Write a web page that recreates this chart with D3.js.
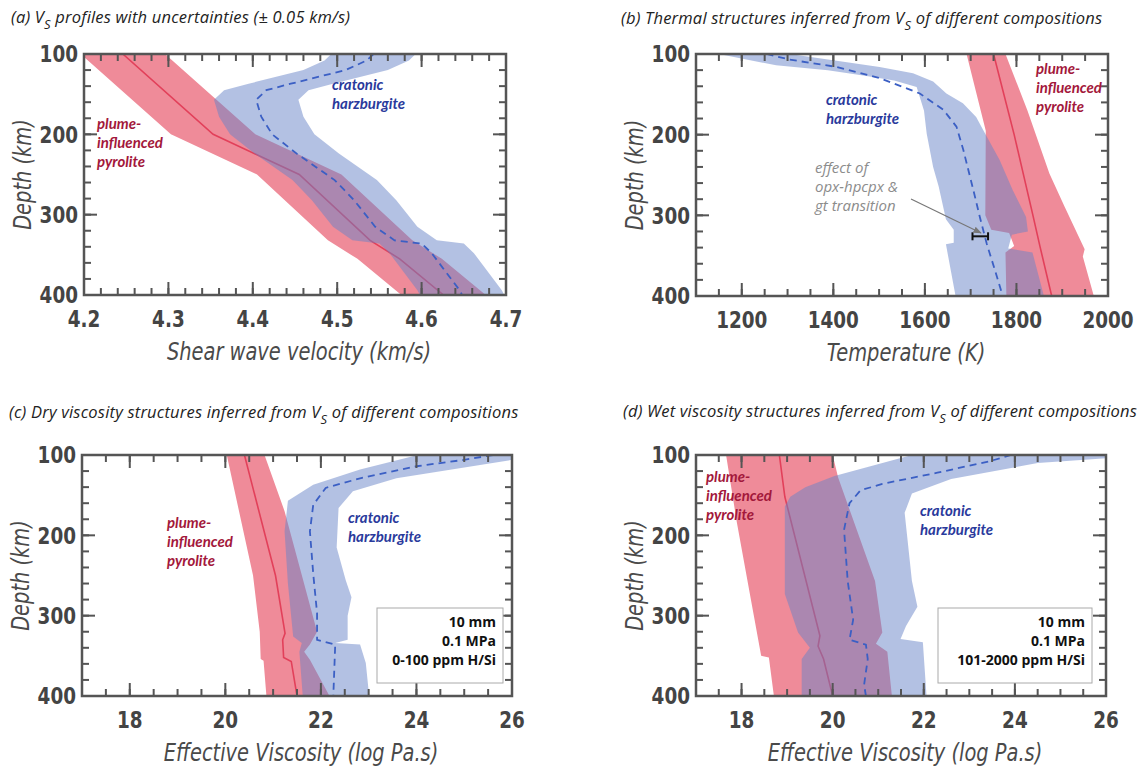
<!DOCTYPE html>
<html><head><meta charset="utf-8">
<script src="https://cdn.jsdelivr.net/npm/d3@7"></script>
<style>
body{margin:0;background:#fff;}
svg{display:block;}
.tick-label{font-family:"DejaVu Sans",sans-serif;font-weight:bold;font-size:23px;fill:#444;}
.axis-title{font-family:"DejaVu Sans",sans-serif;font-style:italic;font-size:24px;fill:#4a4a4a;}
.panel-title{font-family:"Open Sans","Lato",sans-serif;font-style:italic;font-size:16.5px;letter-spacing:0.2px;fill:#222;}
.lab{font-family:"Lato","Open Sans",sans-serif;font-style:italic;font-weight:bold;font-size:15px;}
.box-text{font-family:"Open Sans","Lato",sans-serif;font-weight:bold;font-size:14px;fill:#111;}
.note{font-family:"Open Sans","Lato",sans-serif;font-style:italic;font-size:15px;fill:#8c8c8c;}
</style></head>
<body><svg id="chart" width="1147" height="769"></svg>
<script>
// ---------------- DATA ----------------
const depthTicks = [100, 200, 300, 400];
const vsTicks = [4.2, 4.3, 4.4, 4.5, 4.6, 4.7];
const tempTicks = [1200, 1400, 1600, 1800, 2000];
const viscTicks = [18, 20, 22, 24, 26];

// (a) Vs profiles
const aPyrDepth = [100, 200, 250, 332, 355, 400];
const aPyrVs    = [4.246, 4.353, 4.455, 4.539, 4.574, 4.626];
const aPyrVsLo  = [4.196, 4.303, 4.405, 4.489, 4.524, 4.576];
const aPyrVsHi  = [4.296, 4.403, 4.505, 4.589, 4.624, 4.676];
const aHzDepth = [100, 108, 120, 137, 145, 157, 178, 200, 224, 257, 282, 315, 332, 336, 348, 394, 400];
const aHzVs    = [4.543, 4.535, 4.510, 4.445, 4.416, 4.404, 4.410, 4.423, 4.452, 4.497, 4.520, 4.545, 4.568, 4.600, 4.612, 4.645, 4.648];
const aHzVsLo  = [4.493, 4.485, 4.460, 4.395, 4.366, 4.354, 4.360, 4.373, 4.402, 4.447, 4.470, 4.495, 4.518, 4.550, 4.562, 4.595, 4.598];
const aHzVsHi  = [4.593, 4.585, 4.560, 4.495, 4.466, 4.454, 4.460, 4.473, 4.502, 4.547, 4.570, 4.595, 4.618, 4.650, 4.662, 4.695, 4.698];

// (b) temperature
const bPyrDepth = [100, 200, 300, 340, 400];
const bPyrT     = [1750, 1795, 1836, 1852, 1877];
const bPyrLoDepth = [100, 195, 300, 318, 322, 338, 346, 400];
const bPyrLoT     = [1691, 1733, 1732, 1745, 1784, 1795, 1776, 1778];
const bPyrHiDepth = [100, 170, 248, 289, 342, 351, 400];
const bPyrHiT     = [1776, 1824, 1872, 1905, 1949, 1945, 1969];
const bHzDepth = [100, 107, 116, 130, 149, 169, 190, 219, 269, 302, 335, 368, 400];
const bHzT     = [1254, 1305, 1407, 1502, 1589, 1640, 1669, 1684, 1706, 1720, 1735, 1753, 1770];
const bHzLoDepth = [100, 114, 120, 127, 133, 141, 170, 199, 240, 264, 305, 318, 334, 336, 400];
const bHzLoT     = [1150, 1275, 1388, 1469, 1533, 1582, 1598, 1604, 1618, 1630, 1646, 1663, 1663, 1646, 1667];
const bHzHiDepth = [100, 107, 116, 124, 134, 149, 161, 178, 194, 231, 269, 302, 320, 324, 341, 346, 400];
const bHzHiT     = [1305, 1392, 1501, 1574, 1618, 1647, 1683, 1712, 1727, 1763, 1792, 1821, 1825, 1790, 1782, 1835, 1860];
const gtEffectDepth = 326;
const gtEffectT = [1704, 1738];

// (c) dry viscosity
const cPyrDepth = [100, 250, 322, 330, 352, 357, 400];
const cPyrEta   = [20.40, 21.05, 21.25, 21.20, 21.22, 21.38, 21.50];
const cPyrLoDepth = [100, 250, 320, 354, 356, 400];
const cPyrLoEta   = [20.03, 20.58, 20.72, 20.74, 20.80, 20.86];
const cPyrHiDepth = [100, 170, 320, 336, 345, 355, 400];
const cPyrHiEta   = [20.82, 21.24, 21.92, 21.77, 21.65, 21.77, 22.18];
const cHzDepth = [100, 106, 114, 129, 141, 162, 195, 248, 297, 330, 336, 400];
const cHzEta   = [25.60, 25.00, 24.00, 22.82, 22.10, 21.84, 21.77, 21.84, 21.92, 21.92, 22.30, 22.26];
const cHzLoDepth = [100, 118, 137, 157, 195, 260, 326, 334, 345, 400];
const cHzLoEta   = [24.03, 22.82, 21.84, 21.31, 21.24, 21.31, 21.42, 21.60, 21.55, 21.62];
const cHzHiDepth = [100, 106, 129, 145, 166, 215, 256, 277, 300, 330, 334, 336, 359, 400];
const cHzHiEta   = [26.00, 26.00, 23.58, 22.67, 22.37, 22.33, 22.52, 22.64, 22.56, 22.56, 22.30, 22.82, 22.94, 23.01];

// (d) wet viscosity
const dPyrDepth = [100, 152, 325, 338, 354, 400];
const dPyrEta   = [18.83, 18.95, 19.72, 19.68, 19.80, 20.00];
const dPyrLoDepth = [100, 185, 300, 350, 352, 400];
const dPyrLoEta   = [17.66, 17.90, 18.27, 18.43, 18.60, 18.71];
const dPyrHiDepth = [100, 128, 257, 321, 335, 345, 400];
const dPyrHiEta   = [20.00, 20.12, 20.93, 21.09, 20.95, 21.20, 21.30];
const dHzDepth = [100, 108, 122, 136, 144, 160, 193, 257, 305, 330, 336, 354, 386, 400];
const dHzEta   = [23.92, 23.43, 22.30, 21.09, 20.61, 20.37, 20.25, 20.33, 20.45, 20.37, 20.73, 20.77, 20.69, 20.73];
const dHzLoDepth = [100, 126, 140, 152, 164, 273, 321, 340, 354, 400];
const dHzLoEta   = [21.74, 20.04, 19.40, 19.07, 18.95, 18.95, 19.24, 19.50, 19.32, 19.32];
const dHzHiDepth = [100, 104, 110, 130, 148, 172, 257, 289, 313, 329, 333, 400];
const dHzHiEta   = [26.00, 26.00, 24.50, 22.60, 21.74, 21.58, 21.74, 21.86, 21.61, 21.49, 21.98, 22.06];

const boxC = ["10 mm", "0.1 MPa", "0-100 ppm H/Si"];
const boxD = ["10 mm", "0.1 MPa", "101-2000 ppm H/Si"];

// ---------------- DRAWING ----------------
const svg = d3.select("#chart");
const RED_FILL = "#ef8b99", RED_LINE = "#e2405a", BLUE_FILL = "rgb(103,131,199)", BLUE_LINE = "#3b5fc4";
const RED_TEXT = "#a3183b", BLUE_TEXT = "#2a3a9c";
const TICK_SX = 0.8, TITLE_SX = 0.81;
let clipN = 0;

function drawPanel(p) {
  const g = svg.append("g");
  const x = d3.scaleLinear().domain(p.xDomain).range([p.left, p.right]);
  const y = d3.scaleLinear().domain([100, 400]).range([p.top, p.bottom]);
  const id = "clip" + (clipN++);
  svg.append("clipPath").attr("id", id).append("rect")
    .attr("x", p.left).attr("y", p.top).attr("width", p.right - p.left).attr("height", p.bottom - p.top);
  const plot = g.append("g").attr("clip-path", `url(#${id})`);
  const band = (loD, loV, hiD, hiV) => {
    const pts = loD.map((d, i) => [x(loV[i]), y(d)])
      .concat(hiD.map((d, i) => [x(hiV[i]), y(d)]).reverse());
    return d3.line()(pts) + "Z";
  };
  const line = (D, V) => d3.line()(D.map((d, i) => [x(V[i]), y(d)]));

  plot.append("path").attr("d", band(...p.pyrBand)).attr("fill", RED_FILL);
  plot.append("path").attr("d", line(...p.pyrLine)).attr("fill", "none").attr("stroke", RED_LINE).attr("stroke-width", 1.6);
  plot.append("path").attr("d", band(...p.hzBand)).attr("fill", BLUE_FILL).attr("fill-opacity", 0.5);
  plot.append("path").attr("d", line(...p.hzLine)).attr("fill", "none").attr("stroke", BLUE_LINE)
    .attr("stroke-width", 1.8).attr("stroke-dasharray", "7,5");

  if (p.extra) p.extra(g, x, y);

  // ticks (inward, all four sides)
  const minorX = d3.range(p.xDomain[0], p.xDomain[1] + p.xMinor / 2, p.xMinor);
  const minorY = d3.range(100, 401, 20);
  const tk = g.append("g").attr("stroke", "#555").attr("stroke-width", 2);
  const addX = (vals, len) => vals.forEach(v => {
    tk.append("line").attr("x1", x(v)).attr("x2", x(v)).attr("y1", p.bottom).attr("y2", p.bottom - len);
    tk.append("line").attr("x1", x(v)).attr("x2", x(v)).attr("y1", p.top).attr("y2", p.top + len);
  });
  const addY = (vals, len) => vals.forEach(v => {
    tk.append("line").attr("y1", y(v)).attr("y2", y(v)).attr("x1", p.left).attr("x2", p.left + len);
    tk.append("line").attr("y1", y(v)).attr("y2", y(v)).attr("x1", p.right).attr("x2", p.right - len);
  });
  addX(minorX, 7); addX(p.xTicks, 13);
  addY(minorY, 7); addY(depthTicks, 13);

  g.append("rect").attr("x", p.left).attr("y", p.top).attr("width", p.right - p.left).attr("height", p.bottom - p.top)
    .attr("fill", "none").attr("stroke", "#555").attr("stroke-width", 2.5);

  // tick labels
  g.selectAll(null).data(p.xTicks).enter().append("text").attr("class", "tick-label")
    .attr("transform", d => `translate(${x(d)},${p.bottom + 24}) scale(${TICK_SX},1)`)
    .attr("dy", "0.36em").attr("text-anchor", "middle").text(d => p.fmt(d));
  g.selectAll(null).data(depthTicks).enter().append("text").attr("class", "tick-label")
    .attr("transform", d => `translate(${p.left - 6},${y(d)}) scale(${TICK_SX},1)`)
    .attr("dy", "0.36em").attr("text-anchor", "end").text(d => d);

  // axis titles
  g.append("text").attr("class", "axis-title")
    .attr("transform", `translate(${(p.left + p.right) / 2 + 4},${p.bottom + 56}) scale(${TITLE_SX},1)`)
    .attr("dy", "0.36em").attr("text-anchor", "middle").text(p.xTitle);
  g.append("text").attr("class", "axis-title")
    .attr("transform", `translate(${p.yTitleX},${(p.top + p.bottom) / 2}) rotate(-90) scale(${TITLE_SX},1)`)
    .attr("dy", "0.36em").attr("text-anchor", "middle").text("Depth (km)");

  // panel title
  const t = g.append("text").attr("class", "panel-title").attr("x", p.titleX).attr("y", p.titleY);
  t.append("tspan").text(p.title[0]);
  t.append("tspan").attr("dy", 6).attr("font-size", 13).text("S");
  t.append("tspan").attr("dy", -6).text(p.title[1]);

  // labels
  const lab = (lines, lx, ly, color) => {
    const tt = g.append("text").attr("class", "lab").attr("fill", color);
    lines.forEach((s, i) => tt.append("tspan").attr("x", lx).attr("y", ly + i * 19).attr("dy", "0.36em").text(s));
  };
  lab(["plume-", "influenced", "pyrolite"], p.pyrLab[0], p.pyrLab[1], RED_TEXT);
  lab(["cratonic", "harzburgite"], p.hzLab[0], p.hzLab[1], BLUE_TEXT);

  if (p.box) {
    const b = p.box;
    g.append("rect").attr("x", b.x).attr("y", b.y).attr("width", b.w).attr("height", b.h)
      .attr("fill", "#fff").attr("stroke", "#aaa").attr("stroke-width", 1);
    b.lines.forEach((s, i) => g.append("text").attr("class", "box-text").attr("x", b.x + b.w - 7)
      .attr("y", b.y + 14 + i * 19).attr("dy", "0.36em").attr("text-anchor", "end").text(s));
  }
}

drawPanel({
  left: 84, right: 506, top: 54, bottom: 295, xDomain: [4.2, 4.7], xTicks: vsTicks, xMinor: 0.02,
  fmt: d3.format(".1f"), xTitle: "Shear wave velocity (km/s)", yTitleX: 22,
  title: ["(a) V", " profiles with uncertainties (\u00B1 0.05 km/s)"], titleX: 11, titleY: 23,
  pyrBand: [aPyrDepth, aPyrVsLo, aPyrDepth, aPyrVsHi], pyrLine: [aPyrDepth, aPyrVs],
  hzBand: [aHzDepth, aHzVsLo, aHzDepth, aHzVsHi], hzLine: [aHzDepth, aHzVs],
  pyrLab: [97, 124], hzLab: [332, 85]
});

drawPanel({
  left: 696, right: 1108, top: 54, bottom: 296, xDomain: [1100, 2000], xTicks: tempTicks, xMinor: 50,
  fmt: d => d, xTitle: "Temperature (K)", yTitleX: 634,
  title: ["(b) Thermal structures inferred from V", " of different compositions"], titleX: 621, titleY: 24,
  pyrBand: [bPyrLoDepth, bPyrLoT, bPyrHiDepth, bPyrHiT], pyrLine: [bPyrDepth, bPyrT],
  hzBand: [bHzLoDepth, bHzLoT, bHzHiDepth, bHzHiT], hzLine: [bHzDepth, bHzT],
  pyrLab: [1036, 69], hzLab: [826, 100],
  extra: (g, x, y) => {
    const yy = y(gtEffectDepth);
    const eb = g.append("g").attr("stroke", "#111").attr("stroke-width", 2);
    eb.append("line").attr("x1", x(gtEffectT[0])).attr("x2", x(gtEffectT[1])).attr("y1", yy).attr("y2", yy);
    gtEffectT.forEach(v => eb.append("line").attr("x1", x(v)).attr("x2", x(v)).attr("y1", yy - 4).attr("y2", yy + 4));
    const nt = g.append("text").attr("class", "note");
    ["effect of", "opx-hpcpx &", "gt transition"].forEach((s, i) =>
      nt.append("tspan").attr("x", 815).attr("y", 168 + i * 19).attr("dy", "0.36em").text(s));
    g.append("defs").append("marker").attr("id", "arr").attr("viewBox", "0 0 10 10").attr("refX", 9).attr("refY", 5)
      .attr("markerWidth", 7).attr("markerHeight", 7).attr("orient", "auto")
      .append("path").attr("d", "M0,1 L10,5 L0,9 Z").attr("fill", "#777");
    g.append("line").attr("x1", 911).attr("y1", 199).attr("x2", 981).attr("y2", 233)
      .attr("stroke", "#777").attr("stroke-width", 1.2).attr("marker-end", "url(#arr)");
  }
});

drawPanel({
  left: 82, right: 512, top: 455, bottom: 696, xDomain: [17, 26], xTicks: viscTicks, xMinor: 0.5,
  fmt: d => d, xTitle: "Effective Viscosity (log Pa.s)", yTitleX: 20,
  title: ["(c) Dry viscosity structures inferred from V", " of different compositions"], titleX: 9, titleY: 418,
  pyrBand: [cPyrLoDepth, cPyrLoEta, cPyrHiDepth, cPyrHiEta], pyrLine: [cPyrDepth, cPyrEta],
  hzBand: [cHzLoDepth, cHzLoEta, cHzHiDepth, cHzHiEta], hzLine: [cHzDepth, cHzEta],
  pyrLab: [167, 523], hzLab: [348, 518],
  box: { x: 377, y: 608, w: 126, h: 75, lines: boxC }
});

drawPanel({
  left: 696, right: 1106, top: 455, bottom: 696, xDomain: [17, 26], xTicks: viscTicks, xMinor: 0.5,
  fmt: d => d, xTitle: "Effective Viscosity (log Pa.s)", yTitleX: 634,
  title: ["(d) Wet viscosity structures inferred from V", " of different compositions"], titleX: 623, titleY: 417,
  pyrBand: [dPyrLoDepth, dPyrLoEta, dPyrHiDepth, dPyrHiEta], pyrLine: [dPyrDepth, dPyrEta],
  hzBand: [dHzLoDepth, dHzLoEta, dHzHiDepth, dHzHiEta], hzLine: [dHzDepth, dHzEta],
  pyrLab: [706, 477], hzLab: [920, 511],
  box: { x: 938, y: 608, w: 154, h: 75, lines: boxD }
});
</script></body></html>
